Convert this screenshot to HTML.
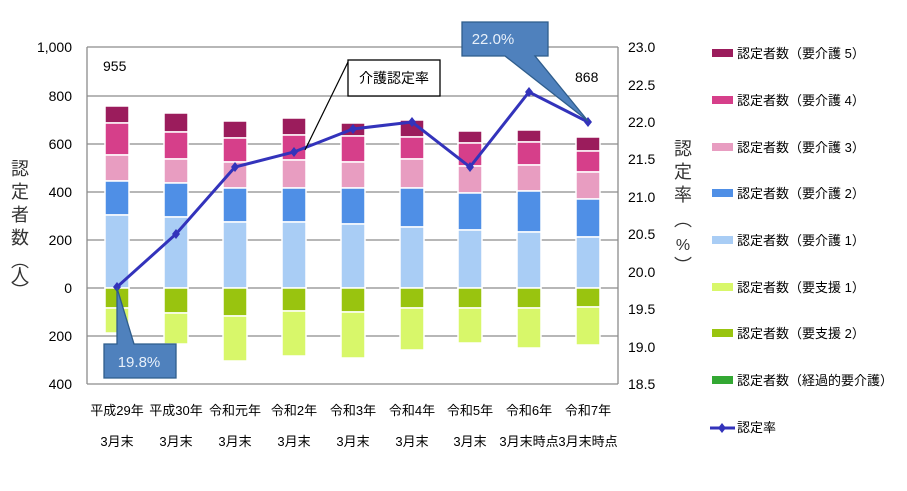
<!DOCTYPE html>
<html><head><meta charset="utf-8"><style>
html,body{margin:0;padding:0;background:#fff;}
svg{display:block;font-family:"Liberation Sans","Noto Sans CJK JP",sans-serif;}
</style></head><body>
<svg width="907" height="491" viewBox="0 0 907 491" xmlns="http://www.w3.org/2000/svg">
<rect width="907" height="491" fill="#fff"/>
<g stroke="#8c8c8c" stroke-width="1.3">
<line x1="87" y1="47" x2="618" y2="47"/><line x1="87" y1="96" x2="618" y2="96"/>
<line x1="87" y1="144" x2="618" y2="144"/><line x1="87" y1="192" x2="618" y2="192"/>
<line x1="87" y1="240" x2="618" y2="240"/><line x1="87" y1="288" x2="618" y2="288"/>
<line x1="87" y1="336" x2="618" y2="336"/><line x1="87" y1="384" x2="618" y2="384"/>
<line x1="87" y1="47" x2="87" y2="384"/><line x1="618" y1="47" x2="618" y2="384"/>
</g>
<g font-size="14" fill="#000" text-anchor="end">
<text x="72" y="52">1,000</text><text x="72" y="101">800</text><text x="72" y="149">600</text>
<text x="72" y="197">400</text><text x="72" y="245">200</text><text x="72" y="293">0</text>
<text x="72" y="341">200</text><text x="72" y="389">400</text>
</g>
<g font-size="14" fill="#000">
<text x="628" y="52">23.0</text><text x="628" y="90">22.5</text><text x="628" y="127">22.0</text>
<text x="628" y="164">21.5</text><text x="628" y="202">21.0</text><text x="628" y="239">20.5</text>
<text x="628" y="277">20.0</text><text x="628" y="314">19.5</text><text x="628" y="352">19.0</text>
<text x="628" y="389">18.5</text>
</g>
<g font-size="18" fill="#333" text-anchor="middle">
<text x="20" y="175">認</text><text x="20" y="198">定</text><text x="20" y="221">者</text><text x="20" y="244">数</text>
<text x="20" y="267">︵</text><text x="20" y="282">人</text><text x="20" y="297">︶</text>
<text x="683" y="155">認</text><text x="683" y="178">定</text><text x="683" y="201">率</text>
<text x="683" y="226">︵</text><text x="683" y="250" font-size="16">%</text><text x="683" y="272">︶</text>
</g>
<g stroke="#fff" stroke-width="1.5">
<g>
<rect x="105" y="106" width="24" height="17" fill="#9b1c5c"/><rect x="105" y="123" width="24" height="32" fill="#d63f8a"/><rect x="105" y="155" width="24" height="26" fill="#e89dc1"/><rect x="105" y="181" width="24" height="34" fill="#4f8fe6"/><rect x="105" y="215" width="24" height="73" fill="#a9cdf5"/><rect x="105" y="288" width="24" height="20" fill="#99c40f"/><rect x="105" y="308" width="24" height="25" fill="#d8f76a"/>
</g>
<g>
<rect x="164" y="113" width="24" height="19" fill="#9b1c5c"/><rect x="164" y="132" width="24" height="27" fill="#d63f8a"/><rect x="164" y="159" width="24" height="24" fill="#e89dc1"/><rect x="164" y="183" width="24" height="34" fill="#4f8fe6"/><rect x="164" y="217" width="24" height="71" fill="#a9cdf5"/><rect x="164" y="288" width="24" height="25" fill="#99c40f"/><rect x="164" y="313" width="24" height="31" fill="#d8f76a"/>
</g>
<g>
<rect x="223" y="121" width="24" height="17" fill="#9b1c5c"/><rect x="223" y="138" width="24" height="24" fill="#d63f8a"/><rect x="223" y="162" width="24" height="26" fill="#e89dc1"/><rect x="223" y="188" width="24" height="34" fill="#4f8fe6"/><rect x="223" y="222" width="24" height="66" fill="#a9cdf5"/><rect x="223" y="288" width="24" height="28" fill="#99c40f"/><rect x="223" y="316" width="24" height="45" fill="#d8f76a"/>
</g>
<g>
<rect x="282" y="118" width="24" height="17" fill="#9b1c5c"/><rect x="282" y="135" width="24" height="25" fill="#d63f8a"/><rect x="282" y="160" width="24" height="28" fill="#e89dc1"/><rect x="282" y="188" width="24" height="34" fill="#4f8fe6"/><rect x="282" y="222" width="24" height="66" fill="#a9cdf5"/><rect x="282" y="288" width="24" height="23" fill="#99c40f"/><rect x="282" y="311" width="24" height="45" fill="#d8f76a"/>
</g>
<g>
<rect x="341" y="123" width="24" height="13" fill="#9b1c5c"/><rect x="341" y="136" width="24" height="26" fill="#d63f8a"/><rect x="341" y="162" width="24" height="26" fill="#e89dc1"/><rect x="341" y="188" width="24" height="36" fill="#4f8fe6"/><rect x="341" y="224" width="24" height="64" fill="#a9cdf5"/><rect x="341" y="288" width="24" height="24" fill="#99c40f"/><rect x="341" y="312" width="24" height="46" fill="#d8f76a"/>
</g>
<g>
<rect x="400" y="120" width="24" height="17" fill="#9b1c5c"/><rect x="400" y="137" width="24" height="22" fill="#d63f8a"/><rect x="400" y="159" width="24" height="29" fill="#e89dc1"/><rect x="400" y="188" width="24" height="39" fill="#4f8fe6"/><rect x="400" y="227" width="24" height="61" fill="#a9cdf5"/><rect x="400" y="288" width="24" height="20" fill="#99c40f"/><rect x="400" y="308" width="24" height="42" fill="#d8f76a"/>
</g>
<g>
<rect x="458" y="131" width="24" height="12" fill="#9b1c5c"/><rect x="458" y="143" width="24" height="23" fill="#d63f8a"/><rect x="458" y="166" width="24" height="27" fill="#e89dc1"/><rect x="458" y="193" width="24" height="37" fill="#4f8fe6"/><rect x="458" y="230" width="24" height="58" fill="#a9cdf5"/><rect x="458" y="288" width="24" height="20" fill="#99c40f"/><rect x="458" y="308" width="24" height="35" fill="#d8f76a"/>
</g>
<g>
<rect x="517" y="130" width="24" height="12" fill="#9b1c5c"/><rect x="517" y="142" width="24" height="23" fill="#d63f8a"/><rect x="517" y="165" width="24" height="26" fill="#e89dc1"/><rect x="517" y="191" width="24" height="41" fill="#4f8fe6"/><rect x="517" y="232" width="24" height="56" fill="#a9cdf5"/><rect x="517" y="288" width="24" height="20" fill="#99c40f"/><rect x="517" y="308" width="24" height="40" fill="#d8f76a"/>
</g>
<g>
<rect x="576" y="137" width="24" height="14" fill="#9b1c5c"/><rect x="576" y="151" width="24" height="21" fill="#d63f8a"/><rect x="576" y="172" width="24" height="27" fill="#e89dc1"/><rect x="576" y="199" width="24" height="38" fill="#4f8fe6"/><rect x="576" y="237" width="24" height="51" fill="#a9cdf5"/><rect x="576" y="288" width="24" height="19" fill="#99c40f"/><rect x="576" y="307" width="24" height="38" fill="#d8f76a"/>
</g>
</g>
<polyline fill="none" stroke="#3333bb" stroke-width="3" points="117,287 176,234 235,167 294,152 353,129 412,122 470,167 529,92 588,122"/>
<g fill="#3333bb">
<path d="M117 282l4 5-4 5-4-5z"/><path d="M176 229l4 5-4 5-4-5z"/><path d="M235 162l4 5-4 5-4-5z"/><path d="M294 147l4 5-4 5-4-5z"/><path d="M353 124l4 5-4 5-4-5z"/><path d="M412 117l4 5-4 5-4-5z"/><path d="M470 162l4 5-4 5-4-5z"/><path d="M529 87l4 5-4 5-4-5z"/><path d="M588 117l4 5-4 5-4-5z"/>
</g>
<text x="103" y="71" font-size="14">955</text>
<text x="575" y="82" font-size="14">868</text>
<line x1="348" y1="62" x2="305" y2="150" stroke="#000" stroke-width="1.2"/>
<rect x="348" y="60" width="92" height="36" fill="#fff" stroke="#000" stroke-width="1.3"/>
<text x="394" y="83" font-size="14" text-anchor="middle">介護認定率</text>
<path d="M462 22 H548 V56 H535 L588 121 L505 56 H462 Z" fill="#4f81bd" stroke="#2f5d8c" stroke-width="1.3"/>
<text x="493" y="44" font-size="15" fill="#e8f0fa" text-anchor="middle">22.0%</text>
<path d="M104 344 H117 L117 288 L134 344 H176 V378 H104 Z" fill="#4f81bd" stroke="#2f5d8c" stroke-width="1.3"/>
<text x="139" y="367" font-size="15" fill="#e8f0fa" text-anchor="middle">19.8%</text>
<g font-size="13" text-anchor="middle" fill="#000">
<text x="117" y="415">平成29年</text><text x="117" y="446">3月末</text>
<text x="176" y="415">平成30年</text><text x="176" y="446">3月末</text>
<text x="235" y="415">令和元年</text><text x="235" y="446">3月末</text>
<text x="294" y="415">令和2年</text><text x="294" y="446">3月末</text>
<text x="353" y="415">令和3年</text><text x="353" y="446">3月末</text>
<text x="412" y="415">令和4年</text><text x="412" y="446">3月末</text>
<text x="470" y="415">令和5年</text><text x="470" y="446">3月末</text>
<text x="529" y="415">令和6年</text><text x="529" y="446">3月末時点</text>
<text x="588" y="415">令和7年</text><text x="588" y="446">3月末時点</text>
</g>
<g>
<rect x="712" y="49" width="21" height="8" fill="#9b1c5c"/>
<rect x="712" y="96" width="21" height="8" fill="#d63f8a"/>
<rect x="712" y="143" width="21" height="8" fill="#e89dc1"/>
<rect x="712" y="189" width="21" height="8" fill="#4f8fe6"/>
<rect x="712" y="236" width="21" height="8" fill="#a9cdf5"/>
<rect x="712" y="283" width="21" height="8" fill="#d8f76a"/>
<rect x="712" y="329" width="21" height="8" fill="#99c40f"/>
<rect x="712" y="376" width="21" height="8" fill="#33a833"/>
<line x1="710" y1="428" x2="735" y2="428" stroke="#3333bb" stroke-width="3"/>
<path d="M722 423l4 5-4 5-4-5z" fill="#3333bb"/>
</g>
<g font-size="13" fill="#000">
<text x="737" y="58">認定者数（要介護 5）</text>
<text x="737" y="105">認定者数（要介護 4）</text>
<text x="737" y="152">認定者数（要介護 3）</text>
<text x="737" y="198">認定者数（要介護 2）</text>
<text x="737" y="245">認定者数（要介護 1）</text>
<text x="737" y="292">認定者数（要支援 1）</text>
<text x="737" y="338">認定者数（要支援 2）</text>
<text x="737" y="385">認定者数（経過的要介護）</text>
<text x="737" y="432">認定率</text>
</g>
</svg>
</body></html>
